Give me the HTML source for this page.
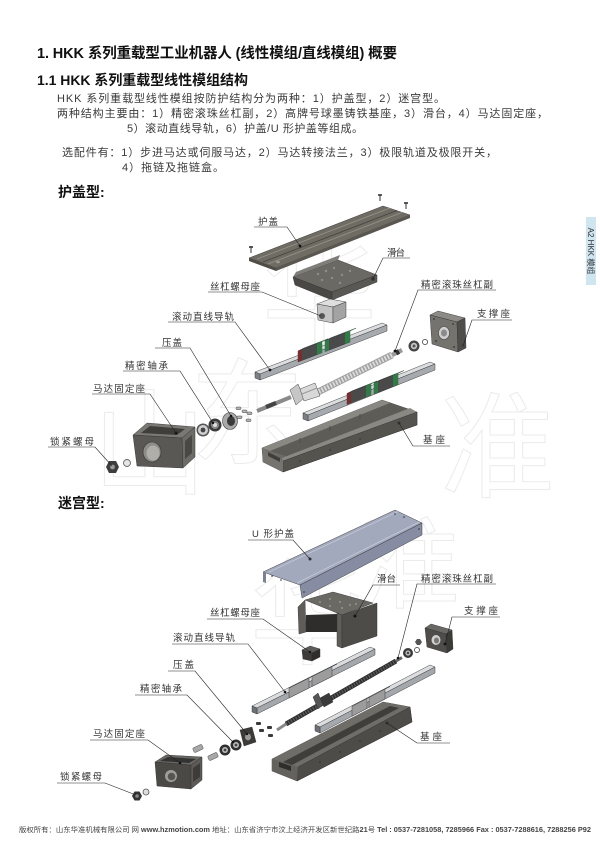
<!DOCTYPE html>
<html><head><meta charset="utf-8"><style>
html,body{margin:0;padding:0;background:#fff;}
svg{display:block;}
.t1{font:700 14.5px "Liberation Sans","Noto Sans CJK SC",sans-serif;fill:#111;}
.t2{font:700 14px "Liberation Sans","Noto Sans CJK SC",sans-serif;fill:#111;}
.bd{font:400 11px "Liberation Sans","Noto Sans CJK SC",sans-serif;fill:#3a3a3a;}
.lb{font:400 9.5px "Liberation Sans","Noto Sans CJK SC",sans-serif;fill:#333;}
.ft{font:400 7px "Liberation Sans","Noto Sans CJK SC",sans-serif;fill:#444;}
.wm{font:400 115px "Noto Sans CJK SC",sans-serif;fill:none;stroke:#ebebeb;stroke-width:1;}
.ld{fill:none;stroke:#222;stroke-width:0.6;}
.dt{fill:#111;}
.ol{stroke:#333;stroke-width:0.45;}
</style></head><body>
<svg xmlns="http://www.w3.org/2000/svg" width="600" height="849" viewBox="0 0 600 849">
<rect width="600" height="849" fill="#fff"/>

<!-- watermark -->
<g class="wm">
<text x="92" y="485">山</text>
<text x="190" y="455">东</text>
<text x="262" y="335">华</text>
<text x="440" y="488">准</text>
<text x="250" y="655">华</text>
<text x="360" y="600" style="font-size:100px">准</text>
</g>

<!-- header text -->
<text class="t1" x="37" y="58" textLength="360" lengthAdjust="spacing">1. HKK 系列重载型工业机器人 (线性模组/直线模组) 概要</text>
<text class="t2" x="37" y="85" textLength="211" lengthAdjust="spacing">1.1 HKK 系列重载型线性模组结构</text>
<text class="bd" x="57" y="102" textLength="388" lengthAdjust="spacing">HKK 系列重载型线性模组按防护结构分为两种：1）护盖型，2）迷宫型。</text>
<text class="bd" x="57" y="117" textLength="491" lengthAdjust="spacing">两种结构主要由：1）精密滚珠丝杠副，2）高牌号球墨铸铁基座，3）滑台，4）马达固定座，</text>
<text class="bd" x="127" y="132" textLength="236" lengthAdjust="spacing">5）滚动直线导轨，6）护盖/U 形护盖等组成。</text>
<text class="bd" x="62" y="156" textLength="435" lengthAdjust="spacing">选配件有：1）步进马达或伺服马达，2）马达转接法兰，3）极限轨道及极限开关，</text>
<text class="bd" x="122" y="171" textLength="102" lengthAdjust="spacing">4）拖链及拖链盒。</text>
<text class="t2" x="58" y="197">护盖型:</text>
<text class="t2" x="58" y="508">迷宫型:</text>

<!-- side tab -->
<rect x="586" y="217" width="10" height="68" fill="#cfe6f0"/>
<text transform="translate(588,251) rotate(90)" text-anchor="middle" style="font:400 8px 'Liberation Sans','Noto Sans CJK SC',sans-serif;fill:#333">A2 HKK 模组</text>

<!-- ================= UPPER DIAGRAM ================= -->
<polygon class="ol" points="249,258 383,206 410,215 276,268" fill="#6f6c64"/>
<polygon points="249,258 276,268 276,271 249,261" fill="#4f4c46"/>
<polygon points="276,268 410,215 410,218 276,271" fill="#5a5750"/>
<line x1="257" y1="259" x2="390" y2="208" stroke="#97948c" stroke-width="0.8"/>
<line x1="263" y1="262" x2="397" y2="210.5" stroke="#45423d" stroke-width="0.8"/>
<line x1="268" y1="264" x2="402" y2="212.5" stroke="#97948c" stroke-width="0.8"/>
<ellipse cx="278" cy="262" rx="2" ry="1.3" fill="#9a978f"/>
<g stroke="#333">
<line x1="251" y1="247" x2="251" y2="253" stroke-width="1"/><line x1="249" y1="247" x2="253" y2="247" stroke-width="1.6"/>
<line x1="380" y1="195" x2="380" y2="201" stroke-width="1"/><line x1="378" y1="195" x2="382" y2="195" stroke-width="1.6"/>
<line x1="406" y1="203" x2="406" y2="209" stroke-width="1"/><line x1="404" y1="203" x2="408" y2="203" stroke-width="1.6"/>
</g>

<polygon class="ol" points="293,277 338,260 377,275 332,292" fill="#6b6964"/>
<polygon points="293,277 296,272 340,255 338,260" fill="#7f7d78"/>
<polygon class="ol" points="293,277 332,292 332,300 295,285" fill="#4a4845"/>
<polygon class="ol" points="332,292 377,275 377,282 332,300" fill="#5a5854"/>
<g fill="#8f8d88"><circle cx="318" cy="274" r="1.2"/><circle cx="326" cy="271" r="1.2"/><circle cx="334" cy="268" r="1.2"/><circle cx="322" cy="280" r="1.2"/><circle cx="332" cy="278" r="1.2"/><circle cx="342" cy="275" r="1.2"/><circle cx="350" cy="271" r="1.2"/><circle cx="340" cy="283" r="1.2"/></g>
<circle cx="373" cy="279" r="1.8" fill="#333"/>

<polygon class="ol" points="317,304 330,299 346,302 333,307" fill="#dedede"/>
<polygon class="ol" points="317,304 333,307 333,323 318,320" fill="#c4c4c4"/>
<polygon class="ol" points="333,307 346,302 346,317 333,323" fill="#a3a3a3"/>
<circle cx="322" cy="316" r="3" fill="#555"/>

<polygon class="ol" points="430,315 438,311 465,318 457,322" fill="#8d8b86"/>
<polygon class="ol" points="430,315 457,322 458,352 432,344" fill="#75736e"/>
<polygon class="ol" points="457,322 465,318 466,348 458,352" fill="#4f4d49"/>
<ellipse cx="444" cy="333" rx="5.5" ry="6.5" fill="#cfcfcf" stroke="#444" stroke-width="0.6"/>
<ellipse cx="444" cy="333" rx="3" ry="3.5" fill="#8a8a8a"/>
<g fill="#444"><circle cx="434" cy="319" r="1"/><circle cx="453" cy="324" r="1"/><circle cx="436" cy="341" r="1"/><circle cx="454" cy="347" r="1"/><circle cx="463" cy="346" r="1.6"/></g>
<circle cx="414" cy="346" r="5.5" fill="#444"/><circle cx="414" cy="346" r="3.2" fill="#c6c6c6"/><circle cx="414" cy="346" r="1.5" fill="#555"/>
<circle cx="425" cy="342" r="2.6" fill="#fff" stroke="#555" stroke-width="0.9"/>

<polygon class="ol" points="255,372 382,323 387,325 260,374" fill="#dadcde"/>
<polygon class="ol" points="260,374 387,325 387,331 260,380" fill="#a6aaae"/>
<polygon class="ol" points="255,372 260,374 260,380 255,378" fill="#7d8084"/>
<polygon class="ol" points="298,351 322,341.8 328,338.8 304,348" fill="#707070"/>
<polygon class="ol" points="298,362 322,352.8 322,341.8 298,351" fill="#4a4a4a"/>
<polygon points="298,362 302,360.5 302,349.5 298,351" fill="#7a2d2d"/>
<polygon points="317,354.7 322,352.8 322,341.8 317,343.7" fill="#2f7d46"/>
<polygon points="317,343.7 322,341.8 328,338.8 323,340.7" fill="#3c9a58"/>
<polygon class="ol" points="325,340.7 350,331.1 356,328.1 331,337.7" fill="#707070"/>
<polygon class="ol" points="325,351.7 350,342.1 350,331.1 325,340.7" fill="#4a4a4a"/>
<polygon points="325,351.7 329,350.2 329,339.2 325,340.7" fill="#2f7d46"/>
<polygon points="345,344 350,342.1 350,331.1 345,333" fill="#2f7d46"/>
<polygon points="345,333 350,331.1 356,328.1 351,330" fill="#3c9a58"/>

<line x1="257" y1="411" x2="291" y2="397" stroke="#8a8a8a" stroke-width="4"/>
<line x1="266" y1="407" x2="276" y2="403" stroke="#444" stroke-width="4.2"/>
<line x1="316" y1="393" x2="392" y2="355" stroke="#a2a2a2" stroke-width="7"/>
<line x1="316" y1="393" x2="392" y2="355" stroke="#dedede" stroke-width="5" stroke-dasharray="1.6 1.6"/>
<line x1="392" y1="355" x2="402" y2="350" stroke="#9a9a9a" stroke-width="4.5"/>
<line x1="396" y1="353" x2="399" y2="351.5" stroke="#333" stroke-width="5"/>
<polygon class="ol" points="290,390 298,384 304,398 296,405" fill="#c6c6c6"/>
<polygon class="ol" points="300,389 315,383 320,396 304,401" fill="#d8d8d8"/>
<line x1="302" y1="394" x2="317" y2="388" stroke="#999" stroke-width="1"/>

<polygon class="ol" points="303,413 430,362 435,364 308,415" fill="#dadcde"/>
<polygon class="ol" points="308,415 435,364 435,370 308,421" fill="#a6aaae"/>
<polygon class="ol" points="303,413 308,415 308,421 303,419" fill="#7d8084"/>
<polygon class="ol" points="347,393.5 371,384 377,381 353,390.5" fill="#707070"/>
<polygon class="ol" points="347,404.5 371,395 371,384 347,393.5" fill="#4a4a4a"/>
<polygon points="347,404.5 351,403 351,392 347,393.5" fill="#7a2d2d"/>
<polygon points="366,397 371,395 371,384 366,386" fill="#2f7d46"/>
<polygon points="366,386 371,384 377,381 372,383" fill="#3c9a58"/>
<polygon class="ol" points="374,383 398,373.5 404,370.5 380,380" fill="#707070"/>
<polygon class="ol" points="374,394 398,384.5 398,373.5 374,383" fill="#4a4a4a"/>
<polygon points="374,394 378,392.5 378,381.5 374,383" fill="#2f7d46"/>
<polygon points="393,386.5 398,384.5 398,373.5 393,375.5" fill="#2f7d46"/>
<polygon points="393,375.5 398,373.5 404,370.5 399,372.5" fill="#3c9a58"/>

<polygon class="ol" points="262,448 382,400 417,412 417,425 283,472 263,462" fill="#6c6a64"/>
<polygon points="262,448 382,400 390,403 270,451" fill="#8a8882"/>
<polygon points="270,451 390,403 409,409 289,457" fill="#5e5c57"/>
<polygon points="282,458 410,408 417,412 283,461" fill="#8a8882"/>
<polygon class="ol" points="283,461 417,412 417,425 283,472" fill="#55534e"/>
<polygon points="262,448 283,461 283,472 263,462" fill="#76746e"/>
<polygon points="268,452 280,458 280,462 268,456" fill="#3f3e3b"/>
<g stroke="#4a4844" stroke-width="0.8"><line x1="300" y1="438" x2="300" y2="443"/><line x1="330" y1="426" x2="330" y2="431"/><line x1="360" y1="414" x2="360" y2="419"/></g>
<g fill="#333"><circle cx="300" cy="461" r="0.8"/><circle cx="330" cy="450" r="0.8"/><circle cx="360" cy="439" r="0.8"/><circle cx="399" cy="423" r="1.5"/></g>

<polygon class="ol" points="133,435 147,423 195,427 182,438" fill="#7a7873"/>
<polygon points="141,433 150,426 185,429 177,435" fill="#3f3e3b"/>
<polygon class="ol" points="133,435 182,438 183,468 137,466" fill="#5a5854"/>
<polygon class="ol" points="182,438 195,427 195,457 183,468" fill="#6d6b66"/>
<polygon points="185,441 192,435 192,453 185,459" fill="#4a4845"/>
<ellipse cx="152" cy="452" rx="9" ry="10" fill="#8e8c87" stroke="#333" stroke-width="0.6"/>
<ellipse cx="153" cy="453" rx="6.5" ry="7.5" fill="#b0aea9"/>
<circle cx="176" cy="433" r="1.4" fill="#111"/>
<polygon points="106,467 109,461 116,461 119,467 116,473 109,473" fill="#3d3d3d"/>
<circle cx="112.5" cy="467" r="2.4" fill="#999"/>
<circle cx="127" cy="463" r="3.5" fill="#e5e5e5" stroke="#666" stroke-width="0.9"/>
<circle cx="203" cy="430" r="6.5" fill="#555"/><circle cx="203" cy="430" r="5" fill="#cfcfcf"/><circle cx="203" cy="430" r="2.4" fill="#444"/>
<circle cx="215" cy="425" r="6.5" fill="#3a3a3a"/><circle cx="215" cy="425" r="4" fill="#888"/><circle cx="215" cy="425" r="2" fill="#ddd"/>
<ellipse cx="230" cy="421" rx="7.5" ry="8.5" fill="#a8a8a8" stroke="#444" stroke-width="0.6"/>
<ellipse cx="231" cy="421" rx="4" ry="5" fill="#3a3a3a"/>
<g fill="#b5b5b5" stroke="#444" stroke-width="0.5">
<rect x="236" y="407" width="5" height="2.6" rx="1"/><rect x="242" y="410" width="5" height="2.6" rx="1"/>
<rect x="237" y="416" width="5" height="2.6" rx="1"/><rect x="247" y="412" width="5" height="2.6" rx="1"/>
<rect x="246" y="419" width="5" height="2.6" rx="1"/>
</g>

<text class="lb" x="258" y="225" textLength="20" lengthAdjust="spacing">护盖</text>
<text class="lb" x="387" y="256" textLength="18" lengthAdjust="spacing">滑台</text>
<text class="lb" x="210" y="290" textLength="50" lengthAdjust="spacing">丝杠螺母座</text>
<text class="lb" x="421" y="288" textLength="72" lengthAdjust="spacing">精密滚珠丝杠副</text>
<text class="lb" x="477" y="317" textLength="33" lengthAdjust="spacing">支撑座</text>
<text class="lb" x="172" y="320" textLength="62" lengthAdjust="spacing">滚动直线导轨</text>
<text class="lb" x="162" y="346" textLength="20" lengthAdjust="spacing">压盖</text>
<text class="lb" x="125" y="369" textLength="43" lengthAdjust="spacing">精密轴承</text>
<text class="lb" x="93" y="392" textLength="52" lengthAdjust="spacing">马达固定座</text>
<text class="lb" x="50" y="445" textLength="44" lengthAdjust="spacing">锁紧螺母</text>
<text class="lb" x="423" y="443" textLength="22" lengthAdjust="spacing">基座</text>

<g class="ld">
<path d="M254,227 H287 L300,246"/>
<path d="M410,258 H383 L373,279"/>
<path d="M208,292 H262 L321,316"/>
<path d="M496,290 H418 L395,351"/>
<path d="M512,320 H472 L463,346"/>
<path d="M168,322 H235 L270,370"/>
<path d="M155,348 H190 L231,416"/>
<path d="M123,371 H180 L213,423"/>
<path d="M92,394 H150 L176,433"/>
<path d="M48,447 H95 L112,466"/>
<path d="M450,446 H413 L399,423"/>
</g>
<g class="dt">
<circle cx="300" cy="246" r="1.4"/><circle cx="270" cy="370" r="1.4"/><circle cx="395" cy="351" r="1.4"/>
<circle cx="231" cy="416" r="1.2"/><circle cx="213" cy="423" r="1.2"/>
</g>

<!-- ================= LOWER DIAGRAM ================= -->
<polygon class="ol" points="263,572 395,510 422,523 300,585" fill="#a3a9bd"/>
<polygon class="ol" points="300,585 422,523 422,535 302,598" fill="#868ca2"/>
<polygon points="263,572 266,573 266,583 263,582" fill="#7b8197"/>
<line x1="268" y1="572.5" x2="398" y2="511.5" stroke="#c4c9d8" stroke-width="0.8"/>
<line x1="297" y1="583" x2="419" y2="522" stroke="#c4c9d8" stroke-width="0.8"/>
<g fill="#333"><circle cx="395" cy="514" r="0.8"/><circle cx="404" cy="517" r="0.8"/><circle cx="272" cy="576" r="0.8"/><circle cx="281" cy="580" r="0.8"/><circle cx="419" cy="529" r="0.8"/><circle cx="304" cy="592" r="0.8"/><circle cx="310" cy="559" r="1.5"/></g>

<polygon class="ol" points="305,600 333,592 373,603 342,615" fill="#6b6964"/>
<polygon class="ol" points="298,607 305,600 306,632 299,634" fill="#5f5d58"/>
<polygon points="306,615 337,614 337,632 306,632" fill="#2e2d2b"/>
<polygon class="ol" points="337,613 342,615 342,648 337,646" fill="#5f5d58"/>
<polygon class="ol" points="342,615 377,603 377,636 342,648" fill="#4e4c48"/>
<g fill="#8f8d88"><circle cx="320" cy="602" r="1.1"/><circle cx="330" cy="599" r="1.1"/><circle cx="340" cy="602" r="1.1"/><circle cx="350" cy="605" r="1.1"/><circle cx="330" cy="606" r="1.1"/><circle cx="342" cy="608" r="1.1"/><circle cx="356" cy="604" r="1.1"/></g>
<circle cx="355" cy="616" r="1.5" fill="#111"/>

<polygon class="ol" points="302,650 310,646 320,649 312,653" fill="#5d5b57"/>
<polygon class="ol" points="302,650 312,653 312,661 303,659" fill="#3c3b39"/>
<polygon class="ol" points="312,653 320,649 320,657 312,661" fill="#2e2d2b"/>

<polygon class="ol" points="425,628 431,624 452,630 446,634" fill="#6a6864"/>
<polygon class="ol" points="425,628 446,634 447,653 427,647" fill="#4f4d49"/>
<polygon class="ol" points="446,634 452,630 453,649 447,653" fill="#3b3a37"/>
<ellipse cx="436" cy="640" rx="4.5" ry="5" fill="#d0d0d0"/><ellipse cx="436.5" cy="640.5" rx="2.5" ry="3" fill="#777"/>
<circle cx="445" cy="644" r="1.4" fill="#111"/>
<polygon points="415,642 417,639 420,639 422,642 420,645 417,645" fill="#555"/>
<circle cx="417" cy="650" r="2.5" fill="#fff" stroke="#555" stroke-width="0.9"/>
<circle cx="408" cy="653" r="5" fill="#3a3a3a"/><circle cx="408" cy="653" r="2.6" fill="#bbb"/><circle cx="408" cy="653" r="1.2" fill="#444"/>

<polygon class="ol" points="252,706 370,647 375,649 257,708" fill="#dadcde"/>
<polygon class="ol" points="257,708 375,649 375,655 257,714" fill="#a4a8ac"/>
<polygon class="ol" points="252,706 257,708 257,714 252,712" fill="#6d7074"/>
<polygon class="ol" points="289,688 309,678 314,675.5 294,685.5" fill="#cfcfcf"/>
<polygon class="ol" points="289,698 309,688 309,678 289,688" fill="#9c9c9c"/>
<polygon class="ol" points="312,676.5 332,666.5 337,664 317,674" fill="#cfcfcf"/>
<polygon class="ol" points="312,686.5 332,676.5 332,666.5 312,676.5" fill="#9c9c9c"/>
<circle cx="285" cy="692" r="1.3" fill="#111"/>

<line x1="277" y1="730" x2="289" y2="722" stroke="#8a8a8a" stroke-width="3"/>
<line x1="286" y1="724" x2="396" y2="661" stroke="#2b2b2b" stroke-width="5"/>
<line x1="286" y1="724" x2="396" y2="661" stroke="#5a5a5a" stroke-width="3.5" stroke-dasharray="1.4 1.4"/>
<line x1="396" y1="661" x2="402" y2="657.5" stroke="#666" stroke-width="3"/>
<polygon class="ol" points="313,697 318,693 323,705 318,709" fill="#555"/>
<polygon class="ol" points="320,698 329,693 333,702 324,707" fill="#3a3a3a"/>
<circle cx="398" cy="658" r="1.3" fill="#111"/>

<polygon class="ol" points="315,725 430,665 435,667 320,727" fill="#dadcde"/>
<polygon class="ol" points="320,727 435,667 435,673 320,733" fill="#a4a8ac"/>
<polygon class="ol" points="315,725 320,727 320,733 315,731" fill="#6d7074"/>
<polygon class="ol" points="352,706.3 367,698.5 372,696 357,703.8" fill="#cfcfcf"/>
<polygon class="ol" points="352,716.3 367,708.5 367,698.5 352,706.3" fill="#9c9c9c"/>
<polygon class="ol" points="369,697.4 385,689 390,686.5 374,694.9" fill="#cfcfcf"/>
<polygon class="ol" points="369,707.4 385,699 385,689 369,697.4" fill="#9c9c9c"/>

<polygon class="ol" points="272,759 383,702 410,707 412,722 297,781 272,771" fill="#5a5853"/>
<polygon points="272,759 383,702 410,707 298,767" fill="#6f6d67"/>
<polygon points="283,762 390,706 399,708 292,765" fill="#3f3e3b"/>
<polygon class="ol" points="298,767 410,707 412,722 297,781" fill="#4e4c48"/>
<polygon points="272,759 298,767 297,781 272,771" fill="#64625d"/>
<polygon points="279,762 291,766 291,771 279,767" fill="#2f2e2c"/>
<g fill="#2a2a2a"><circle cx="320" cy="762" r="0.7"/><circle cx="340" cy="752" r="0.7"/><circle cx="360" cy="741" r="0.7"/><circle cx="380" cy="731" r="0.7"/><circle cx="387" cy="723" r="1.4"/></g>

<polygon class="ol" points="240,730 252,727 256,742 244,746" fill="#3b3a38"/>
<ellipse cx="248" cy="737" rx="3" ry="3.4" fill="#999"/>
<circle cx="247" cy="734" r="1.2" fill="#111"/>
<g fill="#3a3a3a">
<rect x="256" y="722" width="5" height="3" rx="1"/><rect x="259" y="729" width="5" height="3" rx="1"/>
<rect x="267" y="726" width="5" height="3" rx="1"/><rect x="268" y="734" width="5" height="3" rx="1"/>
</g>
<circle cx="225" cy="750" r="5.5" fill="#2f2f2f"/><circle cx="225" cy="750" r="3" fill="#bbb"/><circle cx="225" cy="750" r="1.4" fill="#444"/>
<circle cx="236" cy="745" r="5.5" fill="#2f2f2f"/><circle cx="236" cy="745" r="3" fill="#bbb"/><circle cx="236" cy="745" r="1.4" fill="#444"/>
<g fill="#a8a8a8" stroke="#555" stroke-width="0.5">
<rect x="193" y="746" width="10" height="5" rx="1.5" transform="rotate(-25 198 748.5)"/>
<rect x="208" y="754" width="10" height="5" rx="1.5" transform="rotate(-25 213 756.5)"/>
</g>
<polygon class="ol" points="155,762 166,755 202,757 191,765" fill="#6a6863"/>
<polygon points="160,761 168,757 196,759 189,763" fill="#333"/>
<polygon class="ol" points="155,762 191,765 191,789 157,786" fill="#4b4946"/>
<polygon class="ol" points="191,765 202,757 202,780 191,789" fill="#5d5b57"/>
<polygon points="193,768 200,763 200,777 193,782" fill="#3d3c39"/>
<circle cx="171" cy="776" r="6" fill="#a09e99"/><circle cx="171.5" cy="776.5" r="3.8" fill="#555"/>
<circle cx="180" cy="763" r="1.3" fill="#111"/>
<polygon points="132,796 134.5,791.5 139.5,791.5 142,796 139.5,800.5 134.5,800.5" fill="#333"/>
<circle cx="137" cy="796" r="1.8" fill="#888"/>
<circle cx="146" cy="792" r="3" fill="#ddd" stroke="#555" stroke-width="0.8"/>

<text class="lb" x="252" y="537" textLength="42" lengthAdjust="spacing">U 形护盖</text>
<text class="lb" x="377" y="582" textLength="19" lengthAdjust="spacing">滑台</text>
<text class="lb" x="421" y="582" textLength="72" lengthAdjust="spacing">精密滚珠丝杠副</text>
<text class="lb" x="464" y="614" textLength="34" lengthAdjust="spacing">支撑座</text>
<text class="lb" x="210" y="616" textLength="50" lengthAdjust="spacing">丝杠螺母座</text>
<text class="lb" x="173" y="641" textLength="62" lengthAdjust="spacing">滚动直线导轨</text>
<text class="lb" x="173" y="668" textLength="21" lengthAdjust="spacing">压盖</text>
<text class="lb" x="140" y="692" textLength="42" lengthAdjust="spacing">精密轴承</text>
<text class="lb" x="93" y="737" textLength="52" lengthAdjust="spacing">马达固定座</text>
<text class="lb" x="60" y="780" textLength="42" lengthAdjust="spacing">锁紧螺母</text>
<text class="lb" x="420" y="740" textLength="22" lengthAdjust="spacing">基座</text>

<g class="ld">
<path d="M248,540 H293 L310,559"/>
<path d="M400,585 H373 L355,616"/>
<path d="M496,584 H417 L398,658"/>
<path d="M500,617 H452 L445,644"/>
<path d="M207,619 H263 L310,652"/>
<path d="M172,644 H248 L285,692"/>
<path d="M168,671 H195 L247,734"/>
<path d="M135,695 H187 L233,742"/>
<path d="M90,740 H148 L180,763"/>
<path d="M57,783 H105 L136,795"/>
<path d="M450,743 H417 L387,723"/>
</g>
<circle cx="310" cy="652" r="1.2" fill="#111"/>
<circle cx="233" cy="742" r="1.2" fill="#111"/>

<text class="ft" x="19" y="832" textLength="572" lengthAdjust="spacingAndGlyphs">版权所有：山东华准机械有限公司 网 <tspan font-weight="700">www.hzmotion.com</tspan> 地址：山东省济宁市汶上经济开发区新世纪路<tspan font-weight="700">21</tspan>号 <tspan font-weight="700">Tel : 0537-7281058, 7285966 Fax : 0537-7288616, 7288256 P92</tspan></text>
</svg>
</body></html>
